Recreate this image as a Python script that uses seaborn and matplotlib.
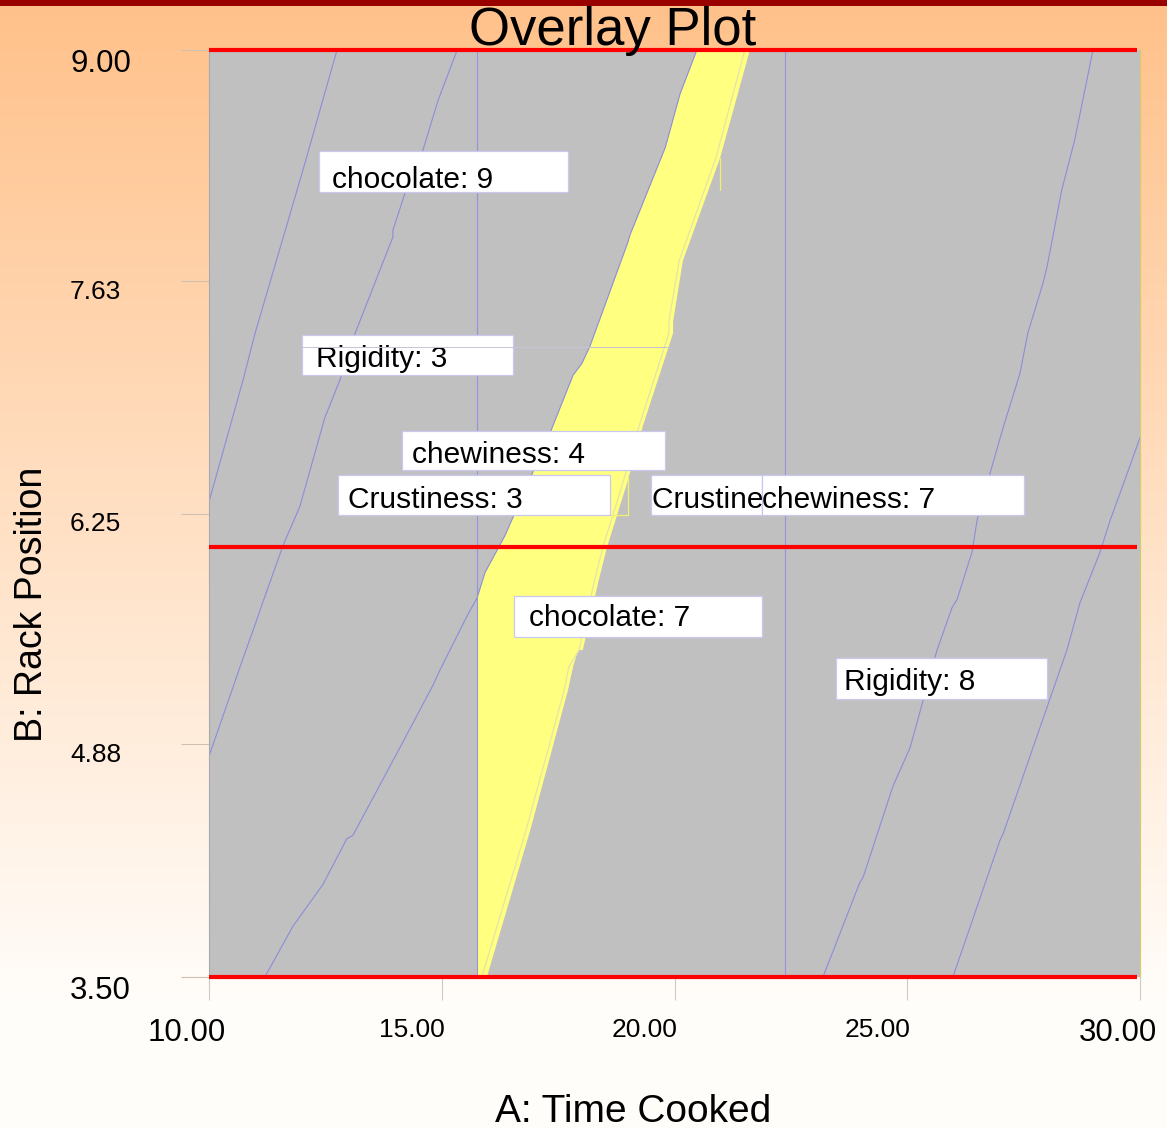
import numpy as np
import matplotlib
matplotlib.use("Agg")
import matplotlib.pyplot as plt
import matplotlib.transforms as mtransforms
from matplotlib.patches import Rectangle
import seaborn as sns

# ---- factor ranges and ticks -------------------------------------------
time_range = (10.0, 30.0)
rack_range = (3.5, 9.0)
x_ticks = [10.0, 15.0, 20.0, 25.0, 30.0]
x_tick_labels = ["10.00", "15.00", "20.00", "25.00", "30.00"]
y_ticks = [3.50, 4.88, 6.25, 7.63, 9.00]
y_tick_labels = ["3.50", "4.88", "6.25", "7.63", "9.00"]

# rack position constraint limits
rack_limits = [9.0, 6.05, 3.5]

# ---- sweet spot region (all constraints satisfied) ---------------------
sweet_left_x = [20.48, 20.12, 19.80, 19.04, 19.00, 18.18, 18.01, 17.82,
                17.33, 16.36, 15.93, 15.76, 15.76]
sweet_left_y = [9.00, 8.74, 8.42, 7.90, 7.86, 7.24, 7.14, 7.07,
                6.73, 6.12, 5.90, 5.75, 3.50]
sweet_right_x = [21.62, 20.98, 20.18, 19.97, 19.97, 19.32, 18.98, 18.55,
                 18.36, 18.03, 17.93, 17.82, 17.71, 16.90, 15.97]
sweet_right_y = [9.00, 8.36, 7.75, 7.39, 7.32, 6.77, 6.43, 6.05,
                 5.84, 5.44, 5.44, 5.34, 5.20, 4.37, 3.50]

# ---- response contours --------------------------------------------------
chocolate_9_x = [12.75, 12.00, 10.99, 10.73, 10.00]
chocolate_9_y = [9.00, 8.27, 7.32, 7.04, 6.32]

rigidity_3_x = [15.33, 14.92, 14.60, 14.21, 13.95, 13.95, 13.14, 12.81,
                12.49, 11.95, 11.59, 11.10, 10.99, 10.73, 10.00]
rigidity_3_y = [9.00, 8.70, 8.41, 8.15, 7.93, 7.89, 7.32, 7.04,
                6.82, 6.29, 6.06, 5.68, 5.59, 5.39, 4.81]

chewiness_4_x = [20.48, 20.12, 19.80, 19.04, 19.00, 18.18, 18.01, 17.82,
                 17.33, 16.36, 15.93, 15.76, 15.54, 14.96, 14.81, 14.10,
                 13.09, 12.96, 12.45, 11.80, 11.20]
chewiness_4_y = [9.00, 8.74, 8.42, 7.90, 7.86, 7.24, 7.14, 7.07,
                 6.73, 6.12, 5.90, 5.75, 5.64, 5.32, 5.23, 4.86,
                 4.34, 4.32, 4.05, 3.80, 3.50]

chocolate_7_x = [21.51, 20.89, 20.10, 19.88, 19.88, 19.24, 18.89, 18.46,
                 18.27, 17.95, 17.73, 17.63, 16.81, 15.86]
chocolate_7_y = [9.00, 8.36, 7.75, 7.39, 7.32, 6.77, 6.43, 6.05,
                 5.84, 5.44, 5.34, 5.20, 4.37, 3.50]

rigidity_8_x = [28.99, 28.60, 28.32, 28.00, 27.92, 27.59, 27.42, 27.06,
                26.78, 26.50, 26.39, 26.07, 25.96, 25.64, 25.34, 25.06,
                24.69, 24.05, 23.98, 23.19]
rigidity_8_y = [9.00, 8.47, 8.17, 7.71, 7.62, 7.32, 7.08, 6.76,
                6.49, 6.21, 6.02, 5.74, 5.69, 5.44, 5.14, 4.86,
                4.63, 4.09, 4.06, 3.50]

chewiness_7_x = [30.00, 29.78, 29.36, 29.14, 28.71, 28.43, 27.70, 27.06,
                 26.99, 25.98]
chewiness_7_y = [6.70, 6.53, 6.21, 6.02, 5.72, 5.44, 4.86, 4.35,
                 4.31, 3.50]

crustiness_3_time = 15.75
crustiness_7_time = 22.37

# contour tags: text, box (x0, x1, y0, y1), text anchor (x, baseline y)
tag_texts = ["chocolate: 9", "Rigidity: 3", "chewiness: 4", "Crustiness: 3",
             "Crustiness: 7", "chewiness: 7", "chocolate: 7", "Rigidity: 8"]
tag_boxes = [(12.36, 17.71, 8.16, 8.40), (12.00, 16.53, 7.07, 7.31),
             (14.15, 19.80, 6.51, 6.74), (12.77, 18.61, 6.24, 6.48),
             (19.50, 21.88, 6.24, 6.48), (21.88, 27.51, 6.24, 6.48),
             (16.55, 21.88, 5.52, 5.76), (23.47, 28.00, 5.15, 5.39)]
tag_anchor = [(12.64, 8.18), (12.30, 7.12), (14.36, 6.55), (12.99, 6.28),
              (19.52, 6.28), (21.88, 6.28), (16.87, 5.58), (23.64, 5.20)]

# ---- style ---------------------------------------------------------------
sns.set_theme(style="white")
plt.rcParams["font.family"] = ["Liberation Sans", "DejaVu Sans"]
plt.rcParams["text.color"] = "black"

W, H = 1167, 1129
fig = plt.figure(figsize=(W / 100, H / 100), dpi=100)

# warm vertical gradient behind everything
bg = fig.add_axes([0, 0, 1, 1], zorder=-10)
top_rgb = np.array([255, 193, 138]) / 255.0
bot_rgb = np.array([255, 253, 250]) / 255.0
t = np.clip(np.arange(H) / 1000.0, 0, 1)[:, None, None]
grad = top_rgb[None, None, :] * (1 - t) + bot_rgb[None, None, :] * t
bg.imshow(grad, aspect="auto", extent=[0, 1, 0, 1], origin="upper")
bg.add_patch(Rectangle((0, 1 - 6 / H), 1, 6 / H, color="#990000", lw=0))
bg.set_xlim(0, 1)
bg.set_ylim(0, 1)
bg.axis("off")

ax = fig.add_axes([209 / W, 152 / H, 931 / W, 927 / H])
ax.set_facecolor("#C0C0C0")
ax.set_xlim(*time_range)
ax.set_ylim(*rack_range)

# sweet spot
poly_x = sweet_left_x + sweet_right_x[::-1]
poly_y = sweet_left_y + sweet_right_y[::-1]
ax.fill(poly_x, poly_y, color="#FFFF80", lw=0, zorder=1)

contour_color = "#8C8CDC"
for cx, cy in [(chocolate_9_x, chocolate_9_y), (rigidity_3_x, rigidity_3_y),
               (chewiness_4_x, chewiness_4_y), (rigidity_8_x, rigidity_8_y),
               (chewiness_7_x, chewiness_7_y)]:
    sns.lineplot(x=cx, y=cy, sort=False, estimator=None, color=contour_color,
                 linewidth=0.8, ax=ax, zorder=2)
sns.lineplot(x=chocolate_7_x, y=chocolate_7_y, sort=False, estimator=None,
             color="#E4E4A8", linewidth=0.9, ax=ax, zorder=2)
for xv in [crustiness_3_time, crustiness_7_time]:
    ax.axvline(xv, color="#9494E0", lw=0.8, zorder=2)

# small leftover outlines
ax.plot([18.57, 19.00, 19.00], [6.24, 6.24, 6.48], color="#F0F070", lw=0.9, zorder=3)
ax.plot([20.98, 20.98], [8.36, 8.17], color="#F0F070", lw=0.9, zorder=3)

# constraint limits
ax.hlines(rack_limits, time_range[0], 29.94, colors="#FF0000", lw=3,
          zorder=20, clip_on=False)

# contour tags; each text is clipped to its own box so overlapping tags hide
for i, (txt, (x0, x1, y0, y1), (tx, ty)) in enumerate(zip(tag_texts, tag_boxes, tag_anchor)):
    z = 6 + 2 * i
    box = Rectangle((x0, y0), x1 - x0, y1 - y0, facecolor="white",
                    edgecolor="#C8C8F0", lw=0.9, zorder=z)
    ax.add_patch(box)
    label = ax.text(tx, ty, txt, fontsize=21.5, ha="left", va="baseline",
                    color="black", zorder=z + 1)
    label.set_clip_path(box)

ax.plot([12.0, 19.86], [7.24, 7.24], color="#C4C4D8", lw=0.7, zorder=19)

# spines and ticks
for s in ["top", "bottom"]:
    ax.spines[s].set_visible(False)
ax.spines["left"].set_color("#A8A8B0")
ax.spines["left"].set_linewidth(0.8)
ax.spines["right"].set_color("#D4CC70")
ax.spines["right"].set_linewidth(0.9)

ax.set_xticks(x_ticks)
ax.set_xticklabels([])
ax.set_yticks(y_ticks)
ax.set_yticklabels([])
ax.tick_params(axis="x", length=16.5, width=0.8, color="#CACACA", direction="out",
               bottom=True)
ax.tick_params(axis="y", length=20, width=0.8, color="#CFC0B0", direction="out",
               left=True)
ax.grid(False)

# tick labels: end values are printed larger
xt = mtransforms.blended_transform_factory(ax.transData, fig.transFigure)
for i, (v, lab) in enumerate(zip(x_ticks, x_tick_labels)):
    big = i in (0, len(x_ticks) - 1)
    tr = mtransforms.offset_copy(xt, fig=fig, x=-22 if big else -30, y=0, units="dots")
    fig.text(v, 1 - 1018 / H, lab, transform=tr, ha="center", va="top",
             fontsize=22.5 if big else 19, color="black")

yt = mtransforms.blended_transform_factory(fig.transFigure, ax.transData)
for i, (v, lab) in enumerate(zip(y_ticks, y_tick_labels)):
    big = i in (0, len(y_ticks) - 1)
    tr = mtransforms.offset_copy(yt, fig=fig, x=0, y=-14 if big else -11, units="dots")
    fig.text(70 / W, v, lab, transform=tr, ha="left", va="center",
             fontsize=22.5 if big else 19, color="black")

fig.text(612.5 / W, 1 - 45 / H, "Overlay Plot", fontsize=38, ha="center",
         va="baseline", color="black")
fig.text(633 / W, 1 - 1122 / H, "A: Time Cooked", fontsize=28, ha="center",
         va="baseline", color="black")
fig.text(32 / W, 1 - 604 / H, "B: Rack Position", fontsize=27, ha="center",
         va="center", rotation=90, color="black")

fig.savefig("out.png", dpi=100)
